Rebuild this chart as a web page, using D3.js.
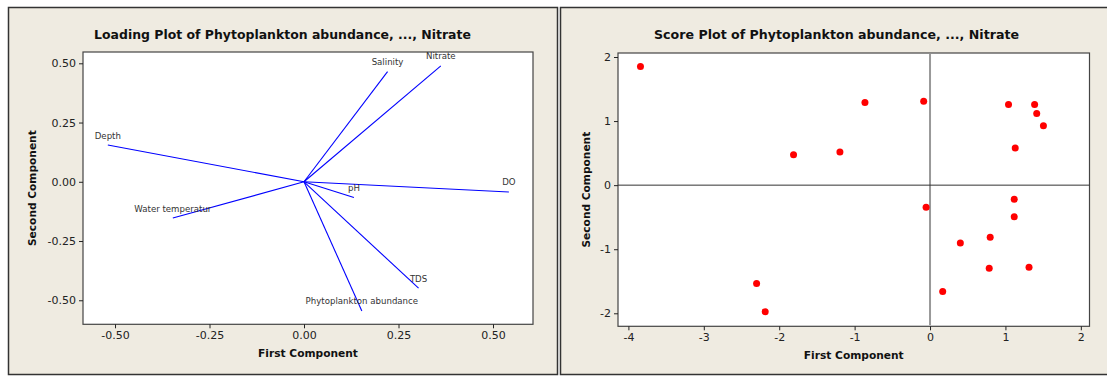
<!DOCTYPE html>
<html><head><meta charset="utf-8">
<script src="https://cdn.jsdelivr.net/npm/d3@7"></script>
<style>
body{margin:0;background:#fff;}
svg{display:block;}
text{font-family:"DejaVu Sans",Tahoma,sans-serif;}
</style></head>
<body>
<svg id="c" width="1107" height="377"></svg>
<script>
// ---- data ----
const variables = ["Phytoplankton abundance","Water temperatur","Depth","Salinity","pH","DO","TDS","Nitrate"];
const loadPC1 = [0.153, -0.347, -0.519, 0.221, 0.132, 0.542, 0.303, 0.362];
const loadPC2 = [-0.545, -0.153, 0.155, 0.465, -0.066, -0.043, -0.449, 0.489];
const loadTicksX = [-0.5, -0.25, 0, 0.25, 0.5];
const loadTicksY = [-0.5, -0.25, 0, 0.25, 0.5];
const loadTickLabels = ["-0.50","-0.25","0.00","0.25","0.50"];
const scorePC1 = [-3.84,-1.81,-1.195,-0.863,-0.084,1.041,1.387,1.415,1.504,1.13,1.117,-0.052,1.117,0.798,0.402,0.785,1.313,0.168,-2.30,-2.186];
const scorePC2 = [1.85,0.474,0.516,1.29,1.31,1.26,1.26,1.12,0.927,0.578,-0.219,-0.344,-0.495,-0.8125,-0.901,-1.297,-1.281,-1.661,-1.536,-1.974];
const scoreTicksX = [-4,-3,-2,-1,0,1,2];
const scoreTicksY = [-2,-1,0,1,2];
const titles = ["Loading Plot of Phytoplankton abundance, ..., Nitrate","Score Plot of Phytoplankton abundance, ..., Nitrate"];

const svg = d3.select("#c");
const BG = "#EFEBE1", INK = "#222";

function fitText(sel, w){
  const n = sel.node(); const cur = n.getComputedTextLength();
  const fs = parseFloat(sel.attr("font-size"));
  sel.attr("font-size", fs * w / cur);
}

function panel(px, pw, title, titleW){
  svg.append("rect").attr("x",px+0.5).attr("y",7.5).attr("width",pw).attr("height",367)
    .attr("fill",BG).attr("stroke","#333").attr("stroke-width",1.5);
  const t = svg.append("text").attr("x",px+pw/2).attr("y",39).attr("text-anchor","middle")
    .attr("font-weight","bold").attr("font-size",13).attr("fill","#111").text(title);
  fitText(t, titleW);
}

function frame(x0,x1,y0,y1){
  svg.append("rect").attr("x",x0).attr("y",y0).attr("width",x1-x0).attr("height",y1-y0)
    .attr("fill","#fff").attr("stroke","#444").attr("stroke-width",1.2);
}

function axes(xs, ys, xt, yt, xfmt, yfmt, y1, x0, xlabW, ylabX, xLabY){
  const gx = svg.append("g").attr("transform",`translate(0,${y1})`)
    .call(d3.axisBottom(xs).tickValues(xt).tickSize(4).tickPadding(3).tickFormat(xfmt));
  const gy = svg.append("g").attr("transform",`translate(${x0},0)`)
    .call(d3.axisLeft(ys).tickValues(yt).tickSize(4).tickPadding(3).tickFormat(yfmt));
  [gx,gy].forEach(g=>{
    g.select(".domain").remove();
    g.selectAll("line").attr("stroke",INK);
    g.selectAll("text").attr("font-size",11).attr("font-family","DejaVu Sans").attr("fill",INK);
  });
  const r = xs.range(), d = ys.range();
  const lx = svg.append("text").attr("x",(r[0]+r[1])/2).attr("y",xLabY).attr("text-anchor","middle")
    .attr("font-weight","bold").attr("font-size",11.5).attr("fill","#111").text("First Component");
  fitText(lx, xlabW);
  const ly = svg.append("text").attr("transform",`translate(${ylabX},${(d[0]+d[1])/2}) rotate(-90)`)
    .attr("text-anchor","middle").attr("font-weight","bold").attr("font-size",11.5).attr("fill","#111")
    .text("Second Component");
  fitText(ly, 116);
}

// ---- Left: loading plot ----
panel(8, 549, titles[0], 377);
const LX0=83, LX1=533, LY0=52, LY1=324.3;
const lx = d3.scaleLinear().domain([-0.5847,0.6058]).range([LX0,LX1]);
const ly = d3.scaleLinear().domain([-0.6014,0.5477]).range([LY1,LY0]);
frame(LX0,LX1,LY0,LY1);
const lfmt = v => loadTickLabels[loadTicksX.indexOf(v)];
axes(lx, ly, loadTicksX, loadTicksY, lfmt, v=>loadTickLabels[loadTicksY.indexOf(v)], LY1, LX0, 100, 36, 357);

const ld = variables.map((v,i)=>({name:v,x:loadPC1[i],y:loadPC2[i]}));
svg.append("g").selectAll("line").data(ld).join("line")
  .attr("x1",lx(0)).attr("y1",ly(0)).attr("x2",d=>lx(d.x)).attr("y2",d=>ly(d.y))
  .attr("stroke","#0000FF").attr("stroke-width",1.1);
svg.append("g").selectAll("text").data(ld).join("text")
  .attr("x",d=>lx(d.x)).attr("y",d=>ly(d.y)-6.5).attr("text-anchor","middle")
  .attr("font-size",8.6).attr("fill","#333").text(d=>d.name);

// ---- Right: score plot ----
panel(560, 553, titles[1], 365);
const RX0=618, RX1=1089.5, RY0=53, RY1=326.3;
const rx = d3.scaleLinear().domain([-4.138,2.115]).range([RX0,RX1]);
const ry = d3.scaleLinear().domain([-2.203,2.0625]).range([RY1,RY0]);
frame(RX0,RX1,RY0,RY1);
axes(rx, ry, scoreTicksX, scoreTicksY, d3.format("d"), d3.format("d"), RY1, RX0, 100, 590, 359);
svg.selectAll("g text").each(function(){ const s=d3.select(this); s.text(s.text().replace("−","-")); });

svg.append("line").attr("x1",rx(0)).attr("x2",rx(0)).attr("y1",RY0+1).attr("y2",RY1-1)
  .attr("stroke","#999").attr("stroke-width",2);
svg.append("line").attr("x1",RX0).attr("x2",RX1).attr("y1",ry(0)).attr("y2",ry(0))
  .attr("stroke","#333").attr("stroke-width",1);
svg.append("g").selectAll("circle").data(scorePC1.map((v,i)=>[v,scorePC2[i]])).join("circle")
  .attr("cx",d=>rx(d[0])).attr("cy",d=>ry(d[1])).attr("r",3.5).attr("fill","#FF0000");
</script>
</body></html>
